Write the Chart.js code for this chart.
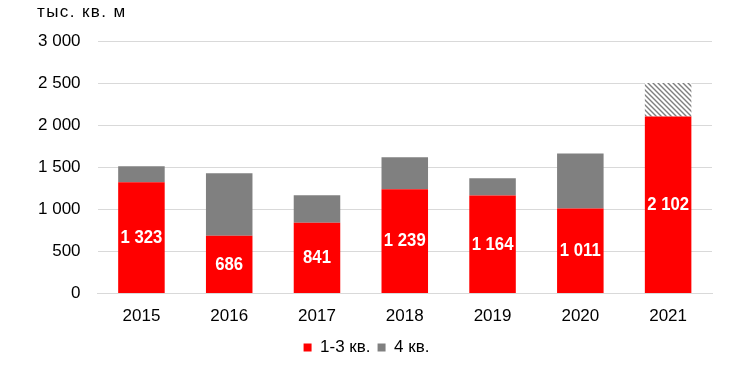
<!DOCTYPE html>
<html lang="ru">
<head>
    <meta charset="UTF-8">
    <title>Ввод жилья</title>
    <style>
        body { margin: 0; background: #fff; }
        #wrap { width: 750px; height: 366px; }
    </style>
    <script src="https://cdn.jsdelivr.net/npm/chart.js"></script>
</head>
<body>
<div id="wrap"><canvas id="chart" width="750" height="366"></canvas></div>
<script>
    const years = ['2015', '2016', '2017', '2018', '2019', '2020', '2021'];
    const q13 = [1323, 686, 841, 1239, 1164, 1011, 2102];
    const q4 = [189, 743, 328, 379, 206, 654, null];
    const q4Forecast = [null, null, null, null, null, null, 398];
    const unitLabel = 'тыс. кв. м';

    const FONT = '"Liberation Sans", Arial, sans-serif';

    // формат "1 323"
    function fmt(v) {
        return String(v).replace(/\B(?=(\d{3})+(?!\d))/g, ' ');
    }

    // штриховка для прогноза 2021
    function makeHatch() {
        const c = document.createElement('canvas');
        c.width = 5; c.height = 5;
        const g = c.getContext('2d');
        g.fillStyle = '#fff';
        g.fillRect(0, 0, 5, 5);
        g.strokeStyle = '#7f7f7f';
        g.lineWidth = 1.4;
        g.beginPath();
        g.moveTo(-1, -1); g.lineTo(6, 6);
        g.moveTo(-1, 4); g.lineTo(1, 6);
        g.moveTo(4, -1); g.lineTo(6, 1);
        g.stroke();
        return g.createPattern(c, 'repeat');
    }

    // белые подписи внутри красных столбцов (узкий жирный шрифт)
    const labelsPlugin = {
        id: 'redLabels',
        afterDatasetsDraw(chart) {
            const ctx = chart.ctx;
            const meta = chart.getDatasetMeta(0);
            meta.data.forEach((bar, i) => {
                const mid = (bar.y + bar.base) / 2;
                ctx.save();
                ctx.translate(bar.x, mid);
                ctx.scale(0.88, 1);
                ctx.fillStyle = '#fff';
                ctx.font = 'bold 19px ' + FONT;
                ctx.textAlign = 'center';
                ctx.textBaseline = 'middle';
                ctx.fillText(fmt(q13[i]), 0, 0);
                ctx.restore();
            });
        }
    };

    const unitPlugin = {
        id: 'unit',
        afterDraw(chart) {
            const ctx = chart.ctx;
            ctx.save();
            ctx.fillStyle = '#000';
            ctx.font = '17px ' + FONT;
            ctx.letterSpacing = '1.4px';
            ctx.textAlign = 'left';
            ctx.textBaseline = 'middle';
            ctx.fillText(unitLabel, 37, 12);
            ctx.restore();
        }
    };

    const ctx = document.getElementById('chart').getContext('2d');
    new Chart(ctx, {
        type: 'bar',
        data: {
            labels: years,
            datasets: [{
                label: '1-3 кв.',
                data: q13,
                backgroundColor: '#ff0000',
                categoryPercentage: 1,
                barPercentage: 0.53
            }, {
                label: '4 кв.',
                data: q4,
                backgroundColor: '#808080',
                categoryPercentage: 1,
                barPercentage: 0.53
            }, {
                label: 'прогноз',
                data: q4Forecast,
                backgroundColor: makeHatch(),
                categoryPercentage: 1,
                barPercentage: 0.53
            }]
        },
        options: {
            responsive: false,
            animation: false,
            layout: { padding: { top: 41, right: 38, left: 21, bottom: 0 } },
            plugins: {
                legend: {
                    position: 'bottom',
                    labels: {
                        boxWidth: 8,
                        boxHeight: 8,
                        color: '#000',
                        padding: 7,
                        font: { family: FONT, size: 17 },
                        filter: item => item.datasetIndex < 2
                    }
                },
                tooltip: { enabled: false }
            },
            scales: {
                x: {
                    stacked: true,
                    grid: { display: false },
                    border: { color: '#d9d9d9' },
                    ticks: {
                        color: '#000',
                        padding: 5,
                        font: { family: FONT, size: 17 }
                    }
                },
                y: {
                    stacked: true,
                    min: 0,
                    max: 3000,
                    grid: { color: '#d9d9d9', drawTicks: false },
                    border: { display: false },
                    ticks: {
                        stepSize: 500,
                        color: '#000',
                        padding: 17,
                        font: { family: FONT, size: 17 },
                        callback: v => fmt(v)
                    }
                }
            }
        },
        plugins: [labelsPlugin, unitPlugin]
    });
</script>
</body>
</html>
